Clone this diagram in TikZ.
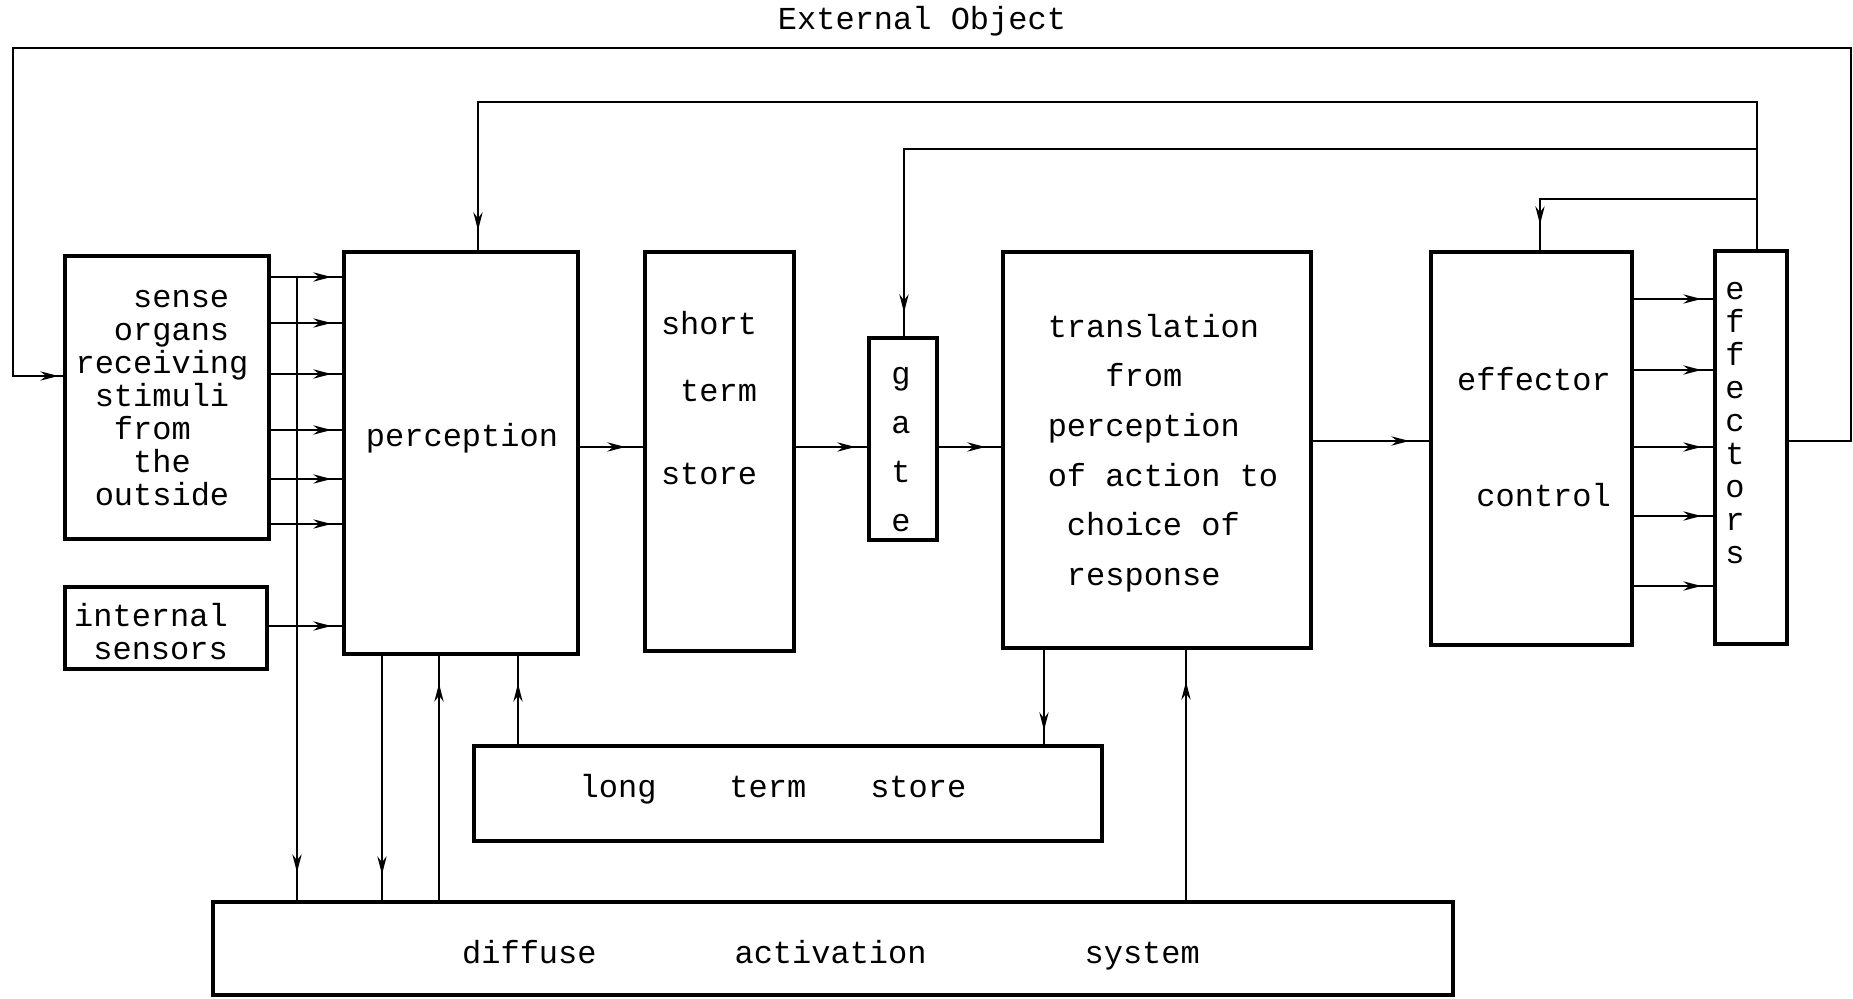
\documentclass[tikz,border=0pt]{standalone}
\usepackage{fontspec}
\setmonofont{Liberation Mono}
\usetikzlibrary{arrows.meta,decorations.markings,fit}
\begin{document}
\begin{tikzpicture}[x=0.5pt,y=-0.5pt,
  box/.style={draw, line width=1.6pt, inner sep=0pt},
  txt/.style={font=\ttfamily\fontsize{16}{16.5}\selectfont, inner sep=0pt, align=left},
  conn/.style={line width=1.1pt},
  tipat/.style={postaction={decorate}, decoration={markings, mark=at position #1 with {\arrow{Stealth[length=9pt,width=4.6pt]}}}}
]
\useasboundingbox (0,0) rectangle (1853,999);

% boxes
\node[box, fit={(65,256) (269,539)}] (sense) {};
\node[box, fit={(65,587) (267,669)}] (intern) {};
\node[box, fit={(344,252) (578,654)}] (perc) {};
\node[box, fit={(645,252) (794,651)}] (sts) {};
\node[box, fit={(869,338) (937,540)}] (gate) {};
\node[box, fit={(1003,252) (1311,648)}] (trans) {};
\node[box, fit={(1431,252) (1632,645)}] (ec) {};
\node[box, fit={(1715,251) (1787,644)}] (eff) {};
\node[box, fit={(474,746) (1102,841)}] (lts) {};
\node[box, fit={(213,902) (1453,995)}] (das) {};

% texts
\node[txt] (tExt) at (922,21) {External Object};
\node[txt] (tSense) at (162,398) {\phantom{sss}sense\\\phantom{ss}organs\\receiving\\\phantom{s}stimuli\\\phantom{ss}from\\\phantom{sss}the\\\phantom{s}outside};
\node[txt] (tIntern) at (151,632) {internal\\\phantom{s}sensors};
\node[txt] (tPerc) at (462,438) {perception};
\node[txt] (tSts) at (709,398) {short\\[17pt]\phantom{s}term\\[25pt]store};
\node[txt, align=center, font=\ttfamily\fontsize{16}{24.5}\selectfont] (tGate) at (901,450) {g\\a\\t\\e};
\node[txt, font=\ttfamily\fontsize{16}{24.8}\selectfont] (tTrans) at (1163,453) {translation\\\phantom{sss}from\\perception\\of action to\\\phantom{s}choice of\\\phantom{s}response};
\node[txt, font=\ttfamily\fontsize{16}{58}\selectfont] (tEc) at (1534,437) {effector\\\phantom{s}control};
\node[txt, align=center] (tEff) at (1735,423) {e\\f\\f\\e\\c\\t\\o\\r\\s};
\node[txt] (tLts) at (773,789) {long\hspace{36.5pt}term\hspace{32pt}store};
\node[txt] (tDas) at (831,955) {diffuse\hspace{69pt}activation\hspace{79pt}system};

% coordinates
\coordinate (o1) at (1851,441);
\coordinate (o2) at (1851,48);
\coordinate (o3) at (13,48);
\coordinate (o4) at (13,376);
\coordinate (v1) at (297,277);
\coordinate (v2) at (382,0);
\coordinate (v3) at (439,0);
\coordinate (v4) at (518,0);
\coordinate (v5) at (1044,0);
\coordinate (v6) at (1186,0);
\coordinate (h1) at (0,447);
\coordinate (h2) at (0,441);
\coordinate (h3) at (0,626);
\coordinate (f0) at (1757,102);
\coordinate (f1) at (478,102);
\coordinate (f2) at (1757,149);
\coordinate (f3) at (904,149);
\coordinate (f4) at (1757,199);
\coordinate (f5) at (1540,199);

% outer loop
\draw[conn, tipat=-2.5pt] (eff.east |- o1) -- (o1) -- (o2) -- (o3) -- (o4) -- (sense.west |- o4);

% sense organs to perception
\foreach \yy in {277,323,374,430,479,524} {
  \coordinate (hh) at (0,\yy);
  \draw[conn, tipat=-5.5pt] (sense.east |- hh) -- (perc.west |- hh);
}
\draw[conn, tipat=-5.5pt] (intern.east |- h3) -- (perc.west |- h3);

% verticals to/from diffuse activation system
\draw[conn, tipat=-14pt] (v1) -- (v1 |- das.north);
\draw[conn, tipat=-13pt] (perc.south -| v2) -- (das.north -| v2);
\draw[conn, tipat=-14pt] (das.north -| v3) -- (perc.south -| v3);
\draw[conn, tipat=-14pt] (lts.north -| v4) -- (perc.south -| v4);
\draw[conn, tipat=-7pt] (trans.south -| v5) -- (lts.north -| v5);
\draw[conn, tipat=-16pt] (das.north -| v6) -- (trans.south -| v6);

% main flow
\draw[conn, tipat=-9pt] (perc.east |- h1) -- (sts.west |- h1);
\draw[conn, tipat=-6pt] (sts.east |- h1) -- (gate.west |- h1);
\draw[conn, tipat=-8pt] (gate.east |- h1) -- (trans.west |- h1);
\draw[conn, tipat=-10pt] (trans.east |- h2) -- (ec.west |- h2);

% effector control to effectors
\foreach \yy in {299,370,447,516,586} {
  \coordinate (hh) at (0,\yy);
  \draw[conn, tipat=-6pt] (ec.east |- hh) -- (eff.west |- hh);
}

% feedback from effectors
\draw[conn, tipat=-10pt] (eff.north -| f0) -- (f0) -- (f1) -- (perc.north -| f1);
\draw[conn, tipat=-12pt] (f2) -- (f3) -- (gate.north -| f3);
\draw[conn, tipat=-13pt] (f4) -- (f5) -- (ec.north -| f5);
\end{tikzpicture}
\end{document}
